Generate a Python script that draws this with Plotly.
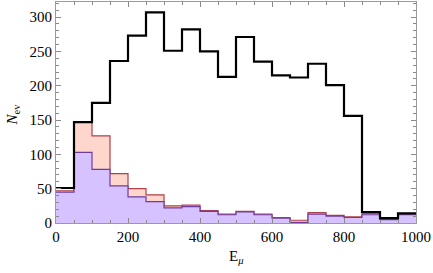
import plotly.graph_objects as go

bin_edges = [0, 50, 100, 150, 200, 250, 300, 350, 400, 450, 500, 550, 600, 650, 700, 750, 800, 850, 900, 950, 1000]
total_counts = [51, 147, 175, 236, 273, 307, 251, 282, 250, 213, 271, 235, 215, 212, 232, 201, 156, 16, 7, 14]
red_counts = [47, 147, 127, 72, 50, 41, 25, 26, 18, 13, 17, 13, 8, 4, 15, 11, 9, 14, 6, 13]
purple_counts = [45, 103, 78, 54, 38, 31, 22, 24, 17, 12, 16, 12, 7, 1, 13, 10, 8, 12, 5, 12]
x_ticks = [0, 200, 400, 600, 800, 1000]
y_ticks = [0, 50, 100, 150, 200, 250, 300]

def step_y(vals):
    return list(vals) + [vals[-1]]

fig = go.Figure()
fig.add_trace(go.Scatter(x=bin_edges, y=step_y(red_counts), mode="lines", line_shape="hv",
                         line=dict(color="#b0404a", width=1.2), fill="tozeroy",
                         fillcolor="#ffd6cc", showlegend=False))
fig.add_trace(go.Scatter(x=bin_edges, y=step_y(purple_counts), mode="lines", line_shape="hv",
                         line=dict(color="#6e3c9e", width=1.2), fill="tozeroy",
                         fillcolor="#d6c2ff", showlegend=False))
fig.add_trace(go.Scatter(x=bin_edges, y=step_y(total_counts), mode="lines", line_shape="hv",
                         line=dict(color="black", width=2.2), showlegend=False))

font = dict(family="Liberation Serif, Times New Roman, serif", size=15, color="black")
axis_common = dict(showgrid=False, zeroline=False, showline=True, linecolor="#9a9a9a", linewidth=1,
                   mirror="ticks", ticks="inside", tickcolor="#8a8a8a", tickwidth=1, ticklen=5,
                   tickfont=font, automargin=False)
fig.update_xaxes(range=[0, 1000], tickvals=x_ticks, ticktext=[str(v) for v in x_ticks],
                 minor=dict(dtick=50, ticklen=3, ticks="inside", tickcolor="#8a8a8a"),
                 **axis_common)
fig.update_yaxes(range=[0, 322], tickvals=y_ticks, ticktext=[str(v) for v in y_ticks],
                 minor=dict(dtick=10, ticklen=3, ticks="inside", tickcolor="#8a8a8a"),
                 **axis_common)
fig.add_annotation(text="E<sub><i>μ</i></sub>", xref="paper", yref="paper", x=0.5, y=-0.155,
                   xanchor="center", yanchor="middle", showarrow=False, font=font)
fig.add_annotation(text="<i>N</i><sub>ev</sub>", xref="paper", yref="paper", x=-0.12, y=0.49,
                   xanchor="center", yanchor="middle", textangle=-90, showarrow=False, font=font)
fig.update_layout(width=433, height=273, margin=dict(l=56, r=17, t=2, b=50),
                  plot_bgcolor="white", paper_bgcolor="white", font=font)
fig.write_html("out.html", config={"displayModeBar": False},
               post_script="document.body.style.margin='0';document.body.style.overflow='hidden';")
